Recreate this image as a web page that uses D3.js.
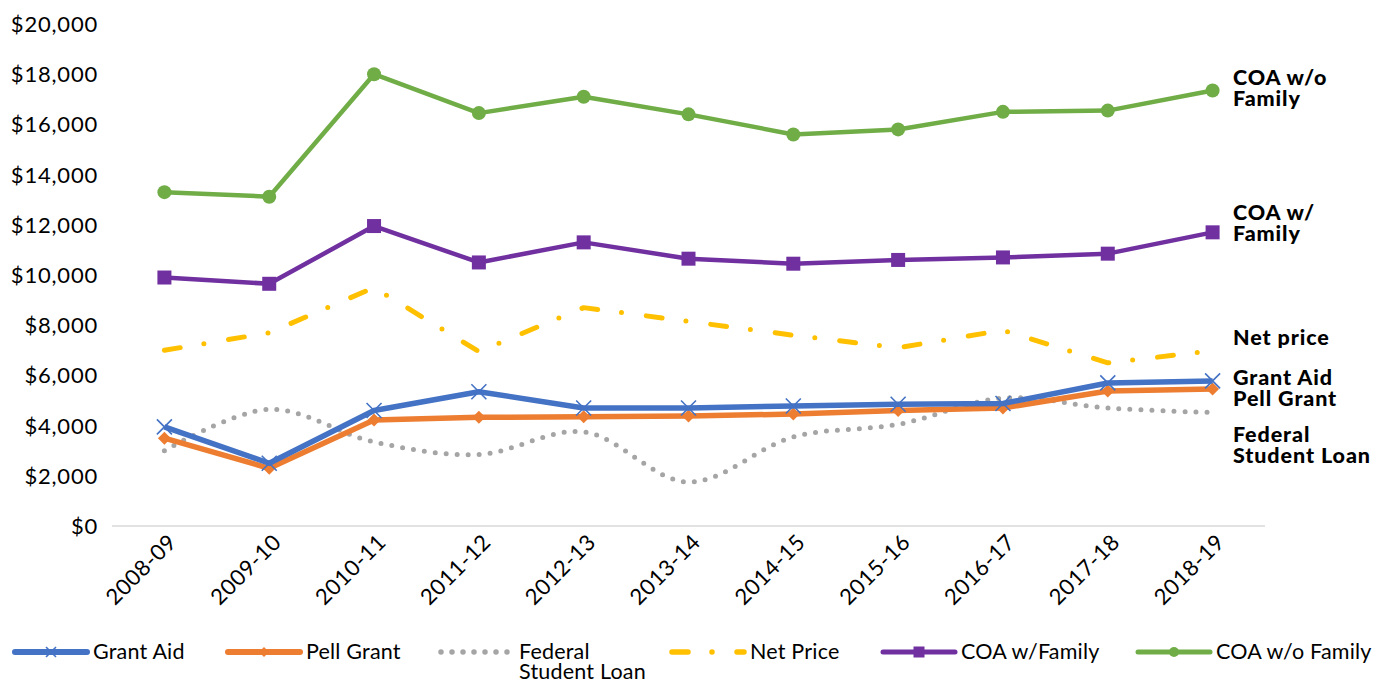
<!DOCTYPE html>
<html>
<head>
<meta charset="utf-8">
<script src="https://cdn.jsdelivr.net/npm/d3@7"></script>
<style>
  html, body { margin: 0; padding: 0; background: #fff; }
  svg { display: block; font-family: Lato, "Open Sans", sans-serif; }
</style>
</head>
<body>
<svg id="chart" width="1394" height="683"></svg>
<script>
// ---------- DATA ----------
const years = ["2008-09","2009-10","2010-11","2011-12","2012-13","2013-14","2014-15","2015-16","2016-17","2017-18","2018-19"];
const grantAid    = [3950, 2500, 4600, 5350, 4700, 4700, 4780, 4850, 4880, 5700, 5780];
const pellGrant   = [3500, 2300, 4220, 4330, 4350, 4380, 4460, 4600, 4700, 5380, 5460];
const fedLoan     = [3000, 4650, 3350, 2850, 3750, 1750, 3550, 4050, 5100, 4700, 4520];
const netPrice    = [7000, 7700, 9500, 6950, 8700, 8150, 7600, 7100, 7800, 6500, 6980];
const coaFamily   = [9900, 9650, 11950, 10500, 11300, 10650, 10450, 10600, 10700, 10850, 11700];
const coaNoFamily = [13300, 13120, 18000, 16450, 17100, 16400, 15600, 15800, 16500, 16550, 17350];
const yTicks = [0, 2000, 4000, 6000, 8000, 10000, 12000, 14000, 16000, 18000, 20000];
const legendNames = ["Grant Aid", "Pell Grant", "Federal|Student Loan", "Net Price", "COA w/Family", "COA w/o Family"];
const endLabels = ["Grant Aid|Pell Grant", "", "Federal|Student Loan", "Net price", "COA w/|Family", "COA w/o|Family"];

// ---------- SERIES STYLE ----------
const series = [
  { values: grantAid,    color: "#4472C4", width: 5.5, marker: "x",       dash: null,          smooth: false },
  { values: pellGrant,   color: "#ED7D31", width: 5.5, marker: "diamond", dash: null,          smooth: false },
  { values: fedLoan,     color: "#A5A5A5", width: 5,   marker: null,      dash: "0 11",        smooth: true  },
  { values: netPrice,    color: "#FFC000", width: 5,   marker: null,      dash: "16 24 0 25",  smooth: false },
  { values: coaFamily,   color: "#7030A0", width: 4.5, marker: "square",  dash: null,          smooth: false },
  { values: coaNoFamily, color: "#70AD47", width: 4.5, marker: "circle",  dash: null,          smooth: false }
];
series.forEach((s, i) => { s.name = legendNames[i]; s.label = endLabels[i]; });

const svg = d3.select("#chart");
const x = d3.scaleBand().domain(years).range([112, 1265]);
const y = d3.scaleLinear().domain([0, 20000]).range([526, 24]);
const cx = d => x(d) + x.bandwidth() / 2;

// y tick labels
svg.append("g").selectAll("text").data(yTicks).join("text")
  .attr("x", 98).attr("y", d => y(d)).attr("dy", "0.36em")
  .attr("text-anchor", "end").attr("font-size", 22).attr("letter-spacing", 0.8).attr("fill", "#000")
  .text(d => "$" + d3.format(",")(d));

// x axis line
svg.append("line").attr("x1", 112).attr("x2", 1265).attr("y1", y(0)).attr("y2", y(0))
  .attr("stroke", "#D9D9D9").attr("stroke-width", 1.5);

// x labels
svg.append("g").selectAll("text").data(years).join("text")
  .attr("transform", d => `translate(${cx(d) + 8},${y(0) + 12}) rotate(-45)`)
  .attr("text-anchor", "end").attr("dy", "0.35em").attr("font-size", 22).attr("letter-spacing", 0.6).attr("fill", "#000")
  .text(d => d);

// marker drawing
function drawMarker(g, type, px, py, size, color) {
  const h = size / 2;
  if (type === "x") {
    g.append("path").attr("d", `M${px-h},${py-h}L${px+h},${py+h}M${px-h},${py+h}L${px+h},${py-h}`)
      .attr("stroke", color).attr("stroke-width", 1.6).attr("fill", "none");
  } else if (type === "diamond") {
    g.append("path").attr("d", `M${px},${py-h}L${px+h},${py}L${px},${py+h}L${px-h},${py}Z`).attr("fill", color);
  } else if (type === "square") {
    g.append("rect").attr("x", px-h).attr("y", py-h).attr("width", size).attr("height", size).attr("fill", color);
  } else if (type === "circle") {
    g.append("circle").attr("cx", px).attr("cy", py).attr("r", h).attr("fill", color);
  }
}
const markerSize = { x: 15, diamond: 13, square: 14, circle: 14 };

// lines
const drawOrder = [2, 3, 5, 4, 1, 0];
drawOrder.forEach(i => {
  const s = series[i];
  const line = d3.line().x((d, j) => cx(years[j])).y(d => y(d))
    .curve(s.smooth ? d3.curveCatmullRom.alpha(0.5) : d3.curveLinear);
  const g = svg.append("g");
  g.append("path").datum(s.values).attr("d", line)
    .attr("fill", "none").attr("stroke", s.color).attr("stroke-width", s.width)
    .attr("stroke-linecap", s.dash ? "round" : "butt").attr("stroke-linejoin", "round")
    .attr("stroke-dasharray", s.dash);
  if (s.marker) s.values.forEach((v, j) => drawMarker(g, s.marker, cx(years[j]), y(v), markerSize[s.marker], s.color));
});

// end labels (right side)
const endLabelPos = [
  { idx: 0, y: 385 }, { idx: 2, y: 442 }, { idx: 3, y: 345 }, { idx: 4, y: 220 }, { idx: 5, y: 85 }
];
endLabelPos.forEach(p => {
  const lines = series[p.idx].label.split("|");
  const t = svg.append("text").attr("x", 1233).attr("y", p.y)
    .attr("font-size", 21.5).attr("font-weight", 900).attr("letter-spacing", 0.9).attr("fill", "#000");
  lines.forEach((l, k) => t.append("tspan").attr("x", 1233).attr("dy", k === 0 ? 0 : 21).text(l));
});

// legend
const legendX = [15, 228, 441, 672, 883, 1138];
const legendY = 652;
series.forEach((s, i) => {
  const g = svg.append("g");
  const x0 = legendX[i];
  g.append("path").attr("d", `M${x0},${legendY}L${x0 + 72},${legendY}`)
    .attr("stroke", s.color).attr("stroke-width", s.width + 0.5)
    .attr("stroke-linecap", "round").attr("stroke-dasharray", s.dash).attr("fill", "none");
  if (s.marker) drawMarker(g, s.marker, x0 + 36, legendY, s.marker === "square" ? 11 : 10, s.color);
  const lines = s.name.split("|");
  const t = g.append("text").attr("x", x0 + 78).attr("y", legendY + 7).attr("font-size", 21.5).attr("letter-spacing", 0.2).attr("fill", "#000");
  lines.forEach((l, k) => t.append("tspan").attr("x", x0 + 78).attr("dy", k === 0 ? 0 : 20).text(l));
});
</script>
</body>
</html>
